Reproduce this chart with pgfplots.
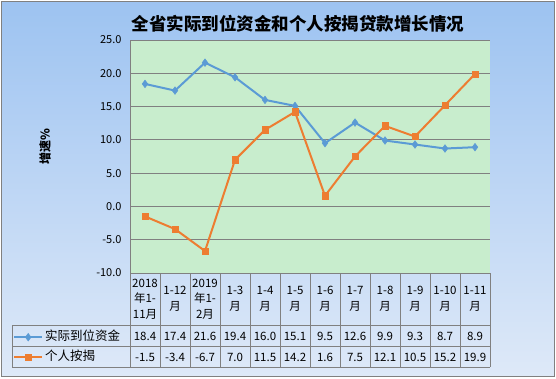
\documentclass[border=0pt]{standalone}
\usepackage{pgfplots}
\pgfplotsset{compat=1.18}
\usepackage{fontspec}
\setmainfont{Noto Sans CJK SC}
\definecolor{bl}{RGB}{91,155,213}
\definecolor{og}{RGB}{237,125,49}
\definecolor{pg}{RGB}{200,237,205}
\definecolor{gl}{RGB}{128,128,128}
\definecolor{bgtop}{RGB}{157,195,241}
\definecolor{bgbot}{RGB}{222,233,248}
\begin{document}
\begin{tikzpicture}[x=1pt, y=1pt]
\path[use as bounding box] (0,0) rectangle (556,-378);
\fill[white] (0,0) rectangle (556,-378);
\shade[top color=bgtop, bottom color=bgbot] (1,-1) rectangle (554,-376);
\draw[gl, line width=0.8pt] (1,-1) rectangle (554,-376);
\begin{axis}[
  at={(130pt,-273pt)}, anchor=south west,
  scale only axis, width=360pt, height=233pt,
  xmin=-0.5, xmax=11.5, ymin=-10, ymax=25,
  ytick={-10,-5,...,25}, xtick=\empty,
  axis background/.style={fill=pg},
  axis line style={draw=none},
  ymajorgrids, major grid style={gl, line width=0.9pt},
  major tick length=0pt,
  /pgf/number format/assume math mode=true,
  yticklabel style={/pgf/number format/fixed, /pgf/number format/fixed zerofill,
     /pgf/number format/precision=1, font=\fontsize{11}{13}\selectfont, xshift=-5pt},
  clip=false,
  legend style={at={(axis description cs:0,0)}, anchor=north west, xshift=-117pt, yshift=-56pt,
     draw=none, fill=none, inner sep=0pt, row sep=4pt,
     nodes={inner sep=2pt, text height=9pt, text depth=3pt, font=\fontsize{12.5}{14}\selectfont}},
  legend cell align=left,
  legend image code/.code={\draw[mark repeat=2, mark phase=2] plot coordinates {(0pt,0pt) (14pt,0pt) (28pt,0pt)};},
]
\addplot[bl, line width=2pt, mark=diamond*, mark size=3.8pt, mark options={fill=bl, draw=bl, line width=0.5pt}]
  coordinates {(0,18.4) (1,17.4) (2,21.6) (3,19.4) (4,16.0) (5,15.1) (6,9.5) (7,12.6) (8,9.9) (9,9.3) (10,8.7) (11,8.9)};
\addlegendentry{实际到位资金}
\addplot[og, line width=2pt, mark=square*, mark size=3.2pt, mark options={fill=og, draw=og, line width=0.5pt}]
  coordinates {(0,-1.5) (1,-3.4) (2,-6.7) (3,7.0) (4,11.5) (5,14.2) (6,1.6) (7,7.5) (8,12.1) (9,10.5) (10,15.2) (11,19.9)};
\addlegendentry{个人按揭}
\end{axis}
% axis left line and table
\draw[gl, line width=0.8pt] (130,-40) -- (130,-273);
\foreach \k in {0,...,12} { \draw[gl, line width=0.8pt] ({130+30*\k},-273) -- ({130+30*\k},-367); }
\draw[gl, line width=0.8pt] (12,-325) -- (490,-325);
\draw[gl, line width=0.8pt] (12,-346) -- (490,-346);
\draw[gl, line width=0.8pt] (12,-367) -- (490,-367);
\draw[gl, line width=0.8pt] (12,-325) -- (12,-367);
% headers
\tikzset{hd/.style={align=center, font=\fontsize{11.5}{15.5}\selectfont, inner sep=0pt}}
\node[hd] at (145,-299) {2018\\年1-\\11月};
\node[hd] at (175,-299) {1-12\\月};
\node[hd] at (205,-299) {2019\\年1-\\2月};
\node[hd] at (235,-299) {1-3\\月};
\node[hd] at (265,-299) {1-4\\月};
\node[hd] at (295,-299) {1-5\\月};
\node[hd] at (325,-299) {1-6\\月};
\node[hd] at (355,-299) {1-7\\月};
\node[hd] at (385,-299) {1-8\\月};
\node[hd] at (415,-299) {1-9\\月};
\node[hd] at (445,-299) {1-10\\月};
\node[hd] at (475,-299) {1-11\\月};
% values
\foreach \v [count=\i from 0] in {18.4,17.4,21.6,19.4,16.0,15.1,9.5,12.6,9.9,9.3,8.7,8.9}
  { \node[font=\fontsize{11.5}{13}\selectfont, inner sep=0pt] at ({145+30*\i},-336) {\v}; }
\foreach \v [count=\i from 0] in {-1.5,-3.4,-6.7,7.0,11.5,14.2,1.6,7.5,12.1,10.5,15.2,19.9}
  { \node[font=\fontsize{11.5}{13}\selectfont, inner sep=0pt] at ({145+30*\i},-357) {\v}; }
% title and y label
\node[font=\fontsize{17.5}{20}\selectfont\bfseries] at (298,-24) {全省实际到位资金和个人按揭贷款增长情况};
\node[rotate=90, font=\fontsize{12}{14}\selectfont\bfseries] at (45,-147) {增速\%};
\end{tikzpicture}
\end{document}
